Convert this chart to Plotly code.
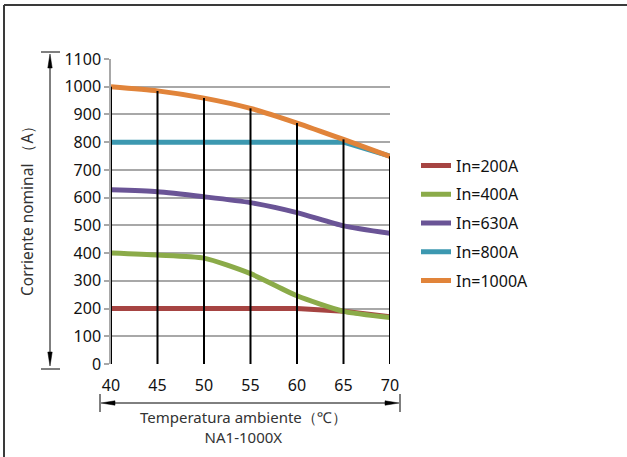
import plotly.graph_objects as go

temps = [40, 45, 50, 55, 60, 65, 70]
in_200 = [200, 200, 200, 200, 200, 190, 170]
in_400 = [400, 393, 382, 326, 246, 190, 168]
in_630 = [628, 621, 603, 582, 546, 498, 471]
in_800 = [800, 800, 800, 800, 800, 800, 750]
in_1000 = [1000, 985, 959, 922, 869, 810, 749]

series_names = ["In=200A", "In=400A", "In=630A", "In=800A", "In=1000A"]
series_values = [in_200, in_400, in_630, in_800, in_1000]
colors = ["#A64442", "#8BAB49", "#6A5496", "#3C98B0", "#E1843A"]
shapes_mode = ["linear", "spline", "spline", "linear", "spline"]

y_ticks = list(range(0, 1101, 100))

W, H = 627, 457
L, R, T, B = 111, 390, 59, 364


def px(x):
    return (x - L) / (R - L)


def py(y):
    return (B - y) / (B - T)


fig = go.Figure()

for i, (name, vals, col, sh) in enumerate(zip(series_names, series_values, colors, shapes_mode)):
    fig.add_trace(go.Scatter(
        x=temps, y=vals, name=name, mode="lines",
        line=dict(color=col, width=5, shape=sh, smoothing=0.6),
        legendgroup=name,
    ))

# vertical drop lines from 0 up to the 1000A curve
vx, vy = [], []
for t, v in zip(temps, in_1000):
    vx += [t, t, None]
    vy += [0, v, None]
fig.add_trace(go.Scatter(x=vx, y=vy, mode="lines", line=dict(color="black", width=2),
                         showlegend=False, hoverinfo="skip"))

shape_list = []
# outer frame (top and left)
shape_list.append(dict(type="line", xref="paper", yref="paper", x0=px(4), x1=px(627), y0=py(5), y1=py(5),
                       line=dict(color="#3a3a3a", width=2)))
shape_list.append(dict(type="line", xref="paper", yref="paper", x0=px(4), x1=px(4), y0=py(5), y1=py(457),
                       line=dict(color="#3a3a3a", width=2)))

# vertical arrow for y axis
ax_x = 50
shape_list.append(dict(type="line", xref="paper", yref="paper", x0=px(ax_x), x1=px(ax_x), y0=py(60), y1=py(360),
                       line=dict(color="black", width=1)))
shape_list.append(dict(type="line", xref="paper", yref="paper", x0=px(41), x1=px(60), y0=py(52), y1=py(52),
                       line=dict(color="black", width=1)))
shape_list.append(dict(type="line", xref="paper", yref="paper", x0=px(41), x1=px(60), y0=py(369), y1=py(369),
                       line=dict(color="black", width=1)))


def tri(p1, p2, p3):
    return "M {} {} L {} {} L {} {} Z".format(px(p1[0]), py(p1[1]), px(p2[0]), py(p2[1]), px(p3[0]), py(p3[1]))


shape_list.append(dict(type="path", xref="paper", yref="paper", path=tri((50, 54), (47.8, 68), (52.2, 68)),
                       fillcolor="black", line=dict(color="black", width=0.5)))
shape_list.append(dict(type="path", xref="paper", yref="paper", path=tri((50, 366), (47.8, 352), (52.2, 352)),
                       fillcolor="black", line=dict(color="black", width=0.5)))

# horizontal arrow for x axis
ay_y = 403
shape_list.append(dict(type="line", xref="paper", yref="paper", x0=px(110), x1=px(390), y0=py(ay_y), y1=py(ay_y),
                       line=dict(color="black", width=1)))
shape_list.append(dict(type="line", xref="paper", yref="paper", x0=px(100), x1=px(100), y0=py(394), y1=py(412),
                       line=dict(color="black", width=1)))
shape_list.append(dict(type="line", xref="paper", yref="paper", x0=px(400), x1=px(400), y0=py(394), y1=py(412),
                       line=dict(color="black", width=1)))
shape_list.append(dict(type="path", xref="paper", yref="paper", path=tri((101, ay_y), (115, ay_y - 2.2), (115, ay_y + 2.2)),
                       fillcolor="black", line=dict(color="black", width=0.5)))
shape_list.append(dict(type="path", xref="paper", yref="paper", path=tri((399, ay_y), (385, ay_y - 2.2), (385, ay_y + 2.2)),
                       fillcolor="black", line=dict(color="black", width=0.5)))

annotations = [
    dict(text="Corriente nominal （A）", xref="paper", yref="paper", x=px(27), y=py(207),
         textangle=-90, showarrow=False, font=dict(size=15.5, color="#333333"), xanchor="center", yanchor="middle"),
    dict(text="Temperatura ambiente（℃）<br>NA1-1000X", xref="paper", yref="paper", x=px(243), y=py(426.5),
         showarrow=False, font=dict(size=15, color="#333333"), xanchor="center", yanchor="middle",
         align="center"),
]

fig.update_layout(
    width=W, height=H,
    margin=dict(l=L, r=W - R, t=T, b=H - B, pad=0),
    paper_bgcolor="white", plot_bgcolor="white",
    font=dict(family="Noto Sans, Open Sans, sans-serif", color="#111111"),
    xaxis=dict(range=[40, 70], tickvals=temps, ticktext=[str(t) for t in temps],
               showgrid=False, zeroline=False, showline=False, ticks="",
               tickfont=dict(size=16, color="#111111"), ticklabelstandoff=10, fixedrange=True),
    yaxis=dict(range=[0, 1100], tickvals=y_ticks, showgrid=True, gridcolor="#A8A8A8", gridwidth=1.5,
               zeroline=False, showline=True, linecolor="#A8A8A8", linewidth=1.5,
               ticks="outside", ticklen=5, tickcolor="#A8A8A8", tickwidth=1.5,
               tickfont=dict(size=16, color="#111111"), fixedrange=True),
    legend=dict(x=px(416), y=py(148.5), xanchor="left", yanchor="top",
                font=dict(size=16, color="#111111"), bgcolor="rgba(0,0,0,0)",
                traceorder="grouped", tracegroupgap=5, itemwidth=30),
    shapes=shape_list,
    annotations=annotations,
    showlegend=True,
)

fig.write_html("out.html", config={"displayModeBar": False},
               post_script="document.body.style.margin='0px';")
